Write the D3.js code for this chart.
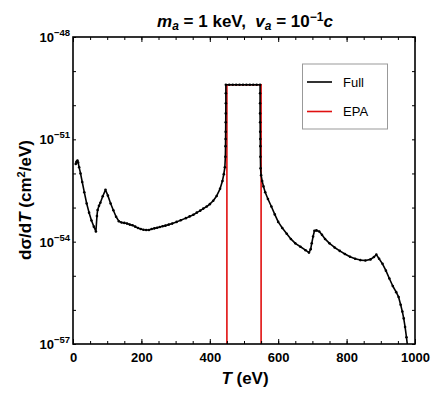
<!DOCTYPE html>
<html><head><meta charset="utf-8">
<script src="https://cdn.jsdelivr.net/npm/d3@7/dist/d3.min.js"></script>
<style>body{margin:0;background:#fff}svg{display:block}text{font-family:"Liberation Sans",Arial,sans-serif;white-space:pre}</style>
</head><body>
<svg id="c" width="447" height="394"></svg>
<script>
// Full curve: T (eV) and log10(dσ/dT in cm^2/eV)
const fullT = [8,10,13,15,18,22,27,33,40,47,54,61,67,70,72,76,80,87,95,102,110,118,126,134,142,150,158,166,174,182,190,198,206,214,222,230,238,246,254,262,270,280,290,303,315,330,341,352,362,372,381,391,400,410,420,430,437,441,444,445.5,446,446.2,446.4,446.6,446.8,447,447,447,
  457,467,477,487,497,507,517,527,537,547,
  547,547,547,547.2,547.4,547.6,547.8,548,548.5,550,553,557,562,570,580,590,600,612,625,637,650,665,680,690,695,698,702,706,712,720,728,737,750,765,780,795,810,825,840,855,870,880,887,895,905,915,925,935,945,952,958,963,967,971,975,978];
const fullLog = [-51.72,-51.66,-51.62,-51.68,-51.82,-52.0,-52.25,-52.55,-52.88,-53.15,-53.38,-53.56,-53.70,-53.25,-53.07,-52.95,-52.86,-52.67,-52.48,-52.65,-52.88,-53.08,-53.27,-53.40,-53.44,-53.45,-53.47,-53.50,-53.52,-53.56,-53.60,-53.63,-53.65,-53.66,-53.66,-53.63,-53.61,-53.59,-53.57,-53.55,-53.53,-53.50,-53.47,-53.42,-53.37,-53.31,-53.26,-53.21,-53.15,-53.09,-53.03,-52.97,-52.90,-52.80,-52.66,-52.45,-52.22,-52.02,-51.82,-51.51,-51.20,-50.99,-50.78,-50.50,-50.24,-49.94,-49.65,-49.40,
  -49.40,-49.40,-49.40,-49.40,-49.40,-49.40,-49.40,-49.40,-49.40,-49.40,
  -49.65,-49.94,-50.24,-50.50,-50.78,-50.99,-51.20,-51.51,-51.85,-52.05,-52.22,-52.38,-52.55,-52.75,-52.97,-53.20,-53.42,-53.60,-53.77,-53.92,-54.05,-54.15,-54.25,-54.32,-54.22,-54.05,-53.85,-53.68,-53.67,-53.70,-53.80,-53.92,-54.05,-54.17,-54.27,-54.36,-54.44,-54.50,-54.54,-54.55,-54.52,-54.45,-54.38,-54.50,-54.65,-54.85,-55.08,-55.30,-55.48,-55.62,-55.85,-56.05,-56.25,-56.50,-56.80,-57.05];
// EPA curve
const epaT = [450,450,550,550];
const epaLog = [-58,-49.40,-49.40,-58];
const xTickLabels = [0,200,400,600,800,1000];
const yTickLabelExp = [-48,-51,-54,-57];
const legendLabels = ["Full","EPA"];
const seriesColors = ["#000000","#e01010"];

const svg = d3.select("#c");
const L=73, R=415, T0=37, B=344;
const x = d3.scaleLinear().domain([0,1000]).range([L,R]);
const y = d3.scaleLog().domain([1e-57,1e-48]).range([B,T0]);

svg.append("defs").append("clipPath").attr("id","clip").append("rect")
  .attr("x",L).attr("y",T0).attr("width",R-L).attr("height",B-T0);

const full = fullT.map((t,i)=>({t, v:Math.pow(10, fullLog[i])}));
const epa = epaT.map((t,i)=>({t, v:Math.pow(10, epaLog[i])}));
const line = d3.line().x(d=>x(d.t)).y(d=>y(d.v));

const g = svg.append("g").attr("clip-path","url(#clip)");
g.append("path").datum(epa).attr("d",line).attr("fill","none").attr("stroke",seriesColors[1]).attr("stroke-width",1.6);
g.append("path").datum(full).attr("d",line).attr("fill","none").attr("stroke",seriesColors[0]).attr("stroke-width",1.6).attr("stroke-linejoin","round");
g.selectAll("circle").data(full).join("circle").attr("cx",d=>x(d.t)).attr("cy",d=>y(d.v)).attr("r",1.3).attr("fill","#000");

// axes with inward ticks
const xMinor = d3.range(0,1001,50);
const xb = d3.axisBottom(x).tickValues(xMinor).tickSize(-3).tickFormat("");
const xbMaj = d3.axisBottom(x).tickValues(xTickLabels).tickSize(-5).tickFormat(d=>d).tickPadding(9);
const yDec = d3.range(-57,-47).map(e=>Math.pow(10,e));
const styleAxis = a => { a.select(".domain").remove(); a.selectAll("line").attr("stroke","#000").attr("stroke-width",1); };

svg.append("g").attr("transform",`translate(0,${B})`).call(xb).call(styleAxis);
const xa = svg.append("g").attr("transform",`translate(0,${B})`).call(xbMaj).call(styleAxis);
xa.selectAll("text").attr("font-size",13).attr("font-weight","bold").attr("fill","#000");
svg.append("g").attr("transform",`translate(0,${T0})`).call(d3.axisTop(x).tickValues(xMinor).tickSize(-3).tickFormat("")).call(styleAxis);
svg.append("g").attr("transform",`translate(0,${T0})`).call(d3.axisTop(x).tickValues(xTickLabels).tickSize(-5).tickFormat("")).call(styleAxis);

svg.append("g").attr("transform",`translate(${L},0)`).call(d3.axisLeft(y).tickValues(yDec).tickSize(-3).tickFormat("")).call(styleAxis);
svg.append("g").attr("transform",`translate(${R},0)`).call(d3.axisRight(y).tickValues(yDec).tickSize(-3).tickFormat("")).call(styleAxis);

// y tick labels with superscripts
yTickLabelExp.forEach(e=>{
  const t = svg.append("text").attr("x",L-3).attr("y",y(Math.pow(10,e))+5).attr("text-anchor","end")
    .attr("font-size",13).attr("font-weight","bold");
  t.append("tspan").text("10");
  t.append("tspan").attr("dy",-6).attr("font-size",9.5).text("\u2212"+Math.abs(e));
});

// frame
svg.append("rect").attr("x",L).attr("y",T0).attr("width",R-L).attr("height",B-T0)
  .attr("fill","none").attr("stroke","#000").attr("stroke-width",1.6);

// title
const title = svg.append("text").attr("x",245).attr("y",27).attr("text-anchor","middle").attr("font-size",17).attr("font-weight","bold");
title.append("tspan").attr("font-style","italic").text("m");
title.append("tspan").attr("font-style","italic").attr("font-size",12).attr("dy",3).text("a");
title.append("tspan").attr("dy",-3).text(" = 1 keV,\u00a0\u00a0");
title.append("tspan").attr("font-style","italic").text("v");
title.append("tspan").attr("font-style","italic").attr("font-size",12).attr("dy",3).text("a");
title.append("tspan").attr("dy",-3).text(" = 10");
title.append("tspan").attr("font-size",12).attr("dy",-6).text("\u22121");
title.append("tspan").attr("dy",6).attr("font-style","italic").text("c");

// x label
const xl = svg.append("text").attr("x",245).attr("y",384).attr("text-anchor","middle").attr("font-size",17).attr("font-weight","bold");
xl.append("tspan").attr("font-style","italic").text("T");
xl.append("tspan").text(" (eV)");

// y label
const yl = svg.append("text").attr("transform","translate(31,200) rotate(-90)").attr("text-anchor","middle").attr("font-size",17).attr("font-weight","bold");
yl.append("tspan").text("d\u03c3/d");
yl.append("tspan").attr("font-style","italic").text("T");
yl.append("tspan").text(" (cm");
yl.append("tspan").attr("font-size",11).attr("dy",-6).text("2");
yl.append("tspan").attr("dy",6).text("/eV)");

// legend
const lg = svg.append("g");
lg.append("rect").attr("x",302.5).attr("y",64).attr("width",85).attr("height",65).attr("fill","#fff").attr("stroke","#999").attr("stroke-width",1);
legendLabels.forEach((lab,i)=>{
  const yy = 82 + i*29.5;
  lg.append("line").attr("x1",307).attr("x2",332).attr("y1",yy).attr("y2",yy).attr("stroke",seriesColors[i]).attr("stroke-width",1.6);
  lg.append("text").attr("x",343).attr("y",yy+4.5).attr("font-size",13).text(lab);
});
</script>
</body></html>
